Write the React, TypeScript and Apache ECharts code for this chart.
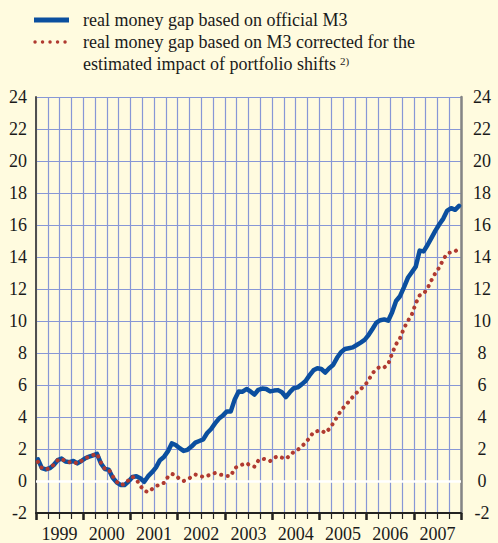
import { useEffect, useRef } from 'react';
import * as echarts from 'echarts';

// Monthly observations, January 1999 – December 2007
const yearLabels = ['1999', '2000', '2001', '2002', '2003', '2004', '2005', '2006', '2007'];
const firstYear = 1999;

const officialM3 = [
  1.35, 0.8, 0.72, 0.8, 1.0, 1.3, 1.4, 1.22, 1.18, 1.25, 1.1, 1.25,
  1.42, 1.52, 1.6, 1.7, 1.1, 0.75, 0.7, 0.2, -0.08, -0.25, -0.25, -0.04,
  0.25, 0.3, 0.17, -0.05, 0.3, 0.55, 0.85, 1.3, 1.5, 1.85, 2.35, 2.25,
  2.05, 1.88, 1.95, 2.15, 2.4, 2.5, 2.6, 3.0, 3.25, 3.6, 3.9, 4.1,
  4.35, 4.35, 5.1, 5.6, 5.58, 5.75, 5.6, 5.4, 5.7, 5.78, 5.75, 5.6,
  5.65, 5.68, 5.55, 5.25, 5.55, 5.8, 5.85, 6.04, 6.25, 6.6, 6.92, 7.05,
  7.0, 6.78, 7.05, 7.25, 7.7, 8.05, 8.25, 8.3, 8.35, 8.5, 8.65, 8.82,
  9.12, 9.5, 9.9, 10.05, 10.1, 10.02, 10.55, 11.25, 11.55, 12.1, 12.7, 13.05,
  13.4, 14.4, 14.35, 14.75, 15.2, 15.65, 16.05, 16.4, 16.9, 17.05, 16.95, 17.2,
];

const correctedM3 = [
  1.2, 0.8, 0.72, 0.8, 1.02, 1.3, 1.4, 1.22, 1.18, 1.22, 1.08, 1.25,
  1.42, 1.52, 1.62, 1.7, 1.15, 0.75, 0.72, 0.3, -0.05, -0.25, -0.2, 0.05,
  0.27, 0.1, -0.3, -0.6, -0.7, -0.5, -0.33, -0.2, -0.12, 0.25, 0.45, 0.35,
  0.12, 0.0, 0.1, 0.25, 0.4, 0.35, 0.25, 0.32, 0.42, 0.5, 0.42, 0.37,
  0.32, 0.31, 0.8, 0.95, 1.03, 1.12, 0.95, 0.9, 1.28, 1.4, 1.35, 1.25,
  1.45, 1.55, 1.46, 1.38, 1.6, 1.82, 1.95, 2.15, 2.4, 2.7, 3.05, 3.12,
  3.17, 3.0, 3.25, 3.6, 4.0, 4.4, 4.7, 4.96, 5.26, 5.52, 5.75, 5.95,
  6.3, 6.73, 7.0, 7.15, 7.1, 7.3, 7.98, 8.55, 8.92, 9.55, 10.0, 10.4,
  11.1, 11.6, 11.7, 12.05, 12.55, 13.0, 13.35, 13.85, 14.22, 14.3, 14.35, 14.55,
];

const yMin = -2;
const yMax = 24;
const yStep = 2;

const legendOfficial = 'real money gap based on official M3';
const legendCorrected1 = 'real money gap based on M3 corrected for the';
const legendCorrected2 = 'estimated impact of portfolio shifts';
const legendNote = '2)';

const FONT = 'Liberation Serif';
const BG = '#fffbdf';
const GRID = '#8797d6';
const BLUE = '#0b4f9f';
const RED = '#b03a30';
const INK = '#1a1a1a';

export default function App() {
  const ref = useRef<HTMLDivElement>(null);

  useEffect(() => {
    document.body.style.margin = '0';
    if (!ref.current) return;
    const chart = echarts.init(ref.current, undefined, { renderer: 'svg' });
    const months = yearLabels.length * 12;
    const toPoints = (arr: number[]) => arr.map((v, i) => [i + 0.5, v]);

    chart.setOption({
      animation: false,
      backgroundColor: BG,
      grid: { left: 36, right: 37, top: 97, bottom: 30, containLabel: false },
      xAxis: [
        {
          type: 'value',
          min: 0,
          max: months,
          interval: 3,
          position: 'bottom',
          axisLine: { show: true, onZero: false, lineStyle: { color: '#222', width: 2 } },
          axisTick: { show: true, inside: true, length: -6, lineStyle: { color: '#222', width: 1.2 } },
          splitLine: { show: true, lineStyle: { color: GRID, width: 1.2 } },
          axisLabel: {
            margin: 12,
            fontSize: 18,
            color: INK,
            fontFamily: FONT,
            formatter: (v: number) => (Math.round(v) % 12 === 6 ? String(firstYear + Math.floor(v / 12)) : ''),
          },
        },
        {
          type: 'value',
          min: 0,
          max: months,
          interval: 12,
          position: 'bottom',
          axisLine: { show: false, onZero: false },
          axisTick: { show: true, inside: false, length: 7, lineStyle: { color: '#222', width: 2.5 } },
          splitLine: { show: false },
          axisLabel: { show: false },
        },
      ],
      yAxis: [
        {
          type: 'value',
          min: yMin,
          max: yMax,
          interval: yStep,
          position: 'left',
          axisLine: { show: true, onZero: false, lineStyle: { color: '#505050', width: 2 } },
          axisTick: { show: false },
          splitLine: { show: true, lineStyle: { color: GRID, width: 1.2 } },
          axisLabel: { margin: 9, fontSize: 18, color: INK, fontFamily: FONT },
        },
        {
          type: 'value',
          min: yMin,
          max: yMax,
          interval: yStep,
          position: 'right',
          axisLine: { show: true, onZero: false, lineStyle: { color: '#858585', width: 2.5 } },
          axisTick: { show: false },
          splitLine: { show: false },
          axisLabel: { margin: 21, align: 'center', fontSize: 18, color: INK, fontFamily: FONT },
        },
      ],
      series: [
        {
          name: legendOfficial,
          type: 'line',
          data: toPoints(officialM3),
          showSymbol: false,
          z: 3,
          lineStyle: { color: BLUE, width: 4.5, join: 'round', cap: 'round' },
          markLine: {
            silent: true,
            z: 1,
            symbol: ['none', 'none'],
            label: { show: false },
            lineStyle: { color: '#ffffff', width: 2.5, type: 'solid' },
            data: [{ yAxis: 0 }],
          },
        },
        {
          name: legendCorrected1 + ' ' + legendCorrected2,
          type: 'line',
          data: toPoints(correctedM3),
          showSymbol: false,
          z: 4,
          lineStyle: { color: RED, width: 4, type: [0.1, 6.6], cap: 'round' },
        },
      ],
      graphic: [
        {
          type: 'line',
          shape: { x1: 34, y1: 20, x2: 69, y2: 20 },
          style: { stroke: BLUE, lineWidth: 5 },
        },
        {
          type: 'line',
          shape: { x1: 35, y1: 42, x2: 68, y2: 42 },
          style: { stroke: RED, lineWidth: 3.4, lineDash: [0.1, 7.4], lineCap: 'round' },
        },
        {
          type: 'text',
          x: 83,
          y: 20,
          style: { text: legendOfficial, font: `18px ${FONT}`, fill: INK, verticalAlign: 'middle' },
        },
        {
          type: 'text',
          x: 83,
          y: 42,
          style: { text: legendCorrected1, font: `18px ${FONT}`, fill: INK, verticalAlign: 'middle' },
        },
        {
          type: 'text',
          x: 83,
          y: 64,
          style: { text: legendCorrected2, font: `18px ${FONT}`, fill: INK, verticalAlign: 'middle' },
        },
        {
          type: 'text',
          x: 340,
          y: 55,
          style: { text: legendNote, font: `11px ${FONT}`, fill: INK, verticalAlign: 'top' },
        },
      ],
    });

    return () => chart.dispose();
  }, []);

  return <div ref={ref} style={{ width: 498, height: 543, background: BG }} />;
}
